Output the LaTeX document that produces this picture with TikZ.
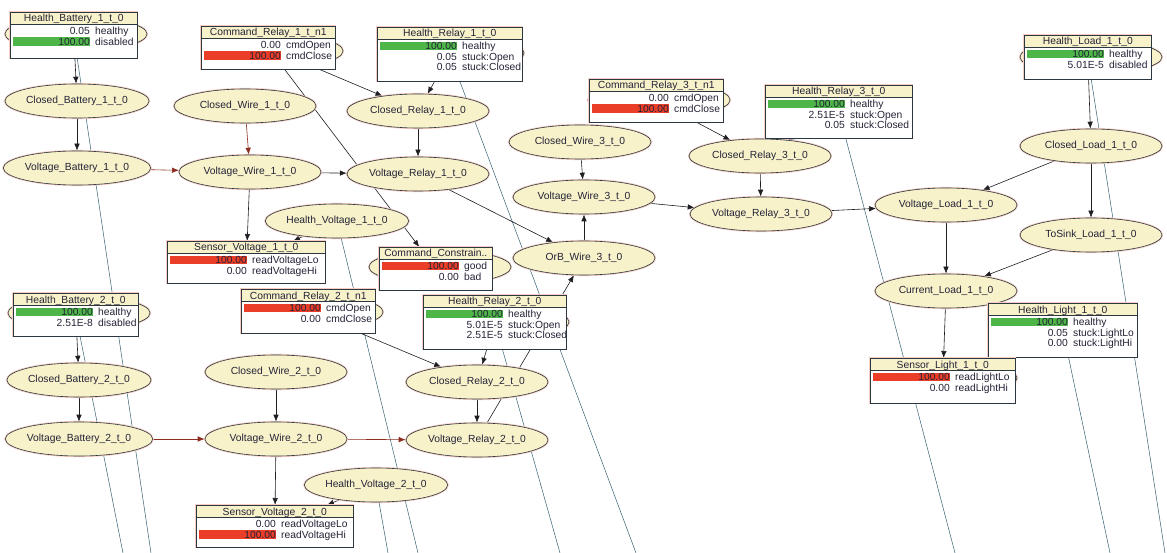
\documentclass[tikz,border=0pt]{standalone}
\usepackage{fontspec}
\setmainfont{Liberation Sans}
\usetikzlibrary{shapes.geometric,arrows.meta,calc}
\definecolor{nodefill}{RGB}{248,242,202}
\definecolor{nodeline}{RGB}{45,55,65}
\definecolor{glow}{RGB}{245,205,195}
\definecolor{bntext}{RGB}{35,35,55}
\definecolor{edgecol}{RGB}{30,30,35}
\definecolor{rededge}{RGB}{140,45,30}
\definecolor{linkcol}{RGB}{55,95,115}
\definecolor{barG}{RGB}{78,182,72}
\definecolor{barR}{RGB}{234,62,40}
\newcommand{\bnfont}{\fontsize{10.3}{11}\selectfont}
\pgfdeclarelayer{background}
\pgfsetlayers{background,main}

\tikzset{
  bnnode/.style={ellipse, draw=nodeline, line width=0.6pt, fill=nodefill,
    minimum width=142pt, minimum height=34pt, inner sep=0pt,
    font=\bnfont, text=bntext, preaction={draw=glow, line width=2.2pt}},
  tblbox/.style={rectangle, draw=nodeline, line width=0.6pt, fill=white,
    inner sep=0pt, preaction={draw=glow, line width=2.2pt}},
  edge/.style={-{Latex[length=7pt,width=5.5pt]}, line width=0.6pt, draw=edgecol},
  redge/.style={edge, draw=rededge},
  tlink/.style={line width=0.5pt, draw=linkcol}
}

% table node: name, left, top, width, height, title, rows value/state/bar
\newcommand{\bnbox}[7]{%
  \node[tblbox, anchor=north west, minimum width=#4pt, minimum height=#5pt] (#1) at (#2,#3) {};
  \draw[draw=nodeline, line width=0.6pt, fill=nodefill] (#1.north west) rectangle ($(#1.north east)+(0,12.5)$);
  \node[font=\bnfont, text=bntext, inner sep=0pt, anchor=base] at ($(#1.north)+(0,10)$) {#6};
  \foreach \val/\st/\col [count=\i] in {#7} {
    \coordinate (r) at ($(#1.north west)+(0,{8.5+10.5*\i})$);
    \fill[\col] ($(r)+(3,-4.3)$) rectangle ($(r)+(80,4.3)$);
    \node[font=\bnfont, text=bntext, anchor=base east, inner sep=0pt] at ($(r)+(80,3.6)$) {\val};
    \node[font=\bnfont, text=bntext, anchor=base west, inner sep=0pt] at ($(r)+(85,3.6)$) {\st};
  }
}

\begin{document}
\begin{tikzpicture}[x=1pt, y=-1pt]
   \useasboundingbox (0,0) rectangle (1167,553);

   % nodes hidden behind the tables
   \node[bnnode] (hb1e) at (76,34) {};
   \node[bnnode] (cr1e) at (272,51) {};
   \node[bnnode] (hr1e) at (453,53) {};
   \node[bnnode] (cr3e) at (659,100) {};
   \node[bnnode] (hl1e) at (1091,57) {};
   \node[bnnode] (hb2e) at (79,313) {};
   \node[bnnode] (cr2e) at (312,312) {};
   \node[bnnode] (cc1e) at (440,267) {};
   \node[bnnode] (hr2e) at (498,322) {};
   \node[bnnode] (sl1e) at (946,378) {};

   % battery 1, wire 1, relay 1
   \node[bnnode] (cb1) at (77,101) {Closed\_Battery\_1\_t\_0};
   \node[bnnode] (vb1) at (77,168) {Voltage\_Battery\_1\_t\_0};
   \node[bnnode] (cw1) at (245,106) {Closed\_Wire\_1\_t\_0};
   \node[bnnode] (vw1) at (250,172) {Voltage\_Wire\_1\_t\_0};
   \node[bnnode] (crl1) at (418,111) {Closed\_Relay\_1\_t\_0};
   \node[bnnode] (vr1) at (418,174) {Voltage\_Relay\_1\_t\_0};
   \node[bnnode] (hv1) at (337,221) {Health\_Voltage\_1\_t\_0};

   % wire 3, relay 3, load
   \node[bnnode] (cw3) at (580,142) {Closed\_Wire\_3\_t\_0};
   \node[bnnode] (vw3) at (584,197) {Voltage\_Wire\_3\_t\_0};
   \node[bnnode] (ob3) at (584,258) {OrB\_Wire\_3\_t\_0};
   \node[bnnode] (crl3) at (760,156) {Closed\_Relay\_3\_t\_0};
   \node[bnnode] (vr3) at (761,214) {Voltage\_Relay\_3\_t\_0};
   \node[bnnode] (vl1) at (946,205) {Voltage\_Load\_1\_t\_0};
   \node[bnnode] (cl1) at (1091,146) {Closed\_Load\_1\_t\_0};
   \node[bnnode] (ts1) at (1091,235) {ToSink\_Load\_1\_t\_0};
   \node[bnnode] (cu1) at (946,291) {Current\_Load\_1\_t\_0};

   % battery 2, wire 2, relay 2
   \node[bnnode] (cb2) at (79,380) {Closed\_Battery\_2\_t\_0};
   \node[bnnode] (vb2) at (79,439) {Voltage\_Battery\_2\_t\_0};
   \node[bnnode] (cw2) at (276,372) {Closed\_Wire\_2\_t\_0};
   \node[bnnode] (vw2) at (276,439) {Voltage\_Wire\_2\_t\_0};
   \node[bnnode] (hv2) at (376,485) {Health\_Voltage\_2\_t\_0};
   \node[bnnode] (crl2) at (477,382) {Closed\_Relay\_2\_t\_0};
   \node[bnnode] (vr2) at (477,440) {Voltage\_Relay\_2\_t\_0};

   % tables
   \bnbox{hb1}{10}{12}{127}{46}{Health\_Battery\_1\_t\_0}{0.05/healthy/white, 100.00/disabled/barG}
   \bnbox{cr1}{201}{26}{134}{43}{Command\_Relay\_1\_t\_n1}{0.00/cmdOpen/white, 100.00/cmdClose/barR}
   \bnbox{hr1}{377}{27}{145}{54}{Health\_Relay\_1\_t\_0}{100.00/healthy/barG, 0.05/stuck:Open/white, 0.05/stuck:Closed/white}
   \bnbox{cr3}{589}{79}{134}{43}{Command\_Relay\_3\_t\_n1}{0.00/cmdOpen/white, 100.00/cmdClose/barR}
   \bnbox{hr3}{765}{85}{147}{53}{Health\_Relay\_3\_t\_0}{100.00/healthy/barG, 2.51E-5/stuck:Open/white, 0.05/stuck:Closed/white}
   \bnbox{hl1}{1024}{35}{127}{44}{Health\_Load\_1\_t\_0}{100.00/healthy/barG, 5.01E-5/disabled/white}
   \bnbox{sv1}{167}{241}{158}{42}{Sensor\_Voltage\_1\_t\_0}{100.00/readVoltageLo/barR, 0.00/readVoltageHi/white}
   \bnbox{cc1}{379}{247}{113}{43}{Command\_Constrain..}{100.00/good/barR, 0.00/bad/white}
   \bnbox{cr2}{241}{289}{134}{44}{Command\_Relay\_2\_t\_n1}{100.00/cmdOpen/barR, 0.00/cmdClose/white}
   \bnbox{hr2}{423}{295}{143}{54}{Health\_Relay\_2\_t\_0}{100.00/healthy/barG, 5.01E-5/stuck:Open/white, 2.51E-5/stuck:Closed/white}
   \bnbox{hb2}{13}{293}{125}{43}{Health\_Battery\_2\_t\_0}{100.00/healthy/barG, 2.51E-8/disabled/white}
   \bnbox{sv2}{196}{505}{157}{42}{Sensor\_Voltage\_2\_t\_0}{0.00/readVoltageLo/white, 100.00/readVoltageHi/barR}
   \bnbox{hli}{988}{303}{149}{54}{Health\_Light\_1\_t\_0}{100.00/healthy/barG, 0.05/stuck:LightLo/white, 0.00/stuck:LightHi/white}
   \bnbox{sl1}{870}{358}{145}{45}{Sensor\_Light\_1\_t\_0}{100.00/readLightLo/barR, 0.00/readLightHi/white}

   % links to the next time slice
   \coordinate (hb1t) at (151,553);
   \coordinate (hb2t) at (123,553);
   \coordinate (hv1t) at (418,553);
   \coordinate (hv2t) at (388,553);
   \coordinate (hr1t) at (636,553);
   \coordinate (hr2t) at (560,553);
   \coordinate (hr3t) at (955,553);
   \coordinate (hl1t) at (1165,553);
   \coordinate (hlit) at (1110,553);

   \begin{pgfonlayer}{background}
   \fill[white] (0,0) rectangle (1167,553);
   \foreach \a in {hb1,hb2,hv1,hv2,hr1,hr2,hr3,hl1,hli}
      \draw[tlink] (\a) -- (\a t);

   \draw[edge] (hb1) -- (cb1);
   \draw[edge] (cb1) -- (vb1);
   \draw[redge] (vb1) -- (vw1);
   \draw[redge] (cw1) -- (vw1);
   \draw[edge] (vw1) -- (vr1);
   \draw[edge] (cr1) -- (crl1);
   \draw[edge] (hr1) -- (crl1);
   \draw[edge] (crl1) -- (vr1);
   \draw[edge] (vw1) -- (sv1);
   \draw[edge] (hv1) -- (sv1);
   \draw[edge] (cr1) -- (cc1);
   \draw[edge] (vr1) -- (ob3);

   \draw[edge] (hb2) -- (cb2);
   \draw[edge] (cb2) -- (vb2);
   \draw[redge] (vb2) -- (vw2);
   \draw[edge] (cw2) -- (vw2);
   \draw[redge] (vw2) -- (vr2);
   \draw[edge] (cr2) -- (crl2);
   \draw[edge] (hr2) -- (crl2);
   \draw[edge] (crl2) -- (vr2);
   \draw[edge] (vw2) -- (sv2);
   \draw[edge] (hv2) -- (sv2);
   \draw[edge] (vr2) -- (ob3);

   \draw[edge] (ob3) -- (vw3);
   \draw[edge] (cw3) -- (vw3);
   \draw[edge] (vw3) -- (vr3);
   \draw[edge] (cr3) -- (crl3);
   \draw[edge] (hr3) -- (crl3);
   \draw[edge] (crl3) -- (vr3);
   \draw[edge] (vr3) -- (vl1);
   \draw[edge] (hl1) -- (cl1);
   \draw[edge] (cl1) -- (vl1);
   \draw[edge] (cl1) -- (ts1);
   \draw[edge] (ts1) -- (cu1);
   \draw[edge] (vl1) -- (cu1);
   \draw[edge] (cu1) -- (sl1);
   \end{pgfonlayer}
\end{tikzpicture}
\end{document}
